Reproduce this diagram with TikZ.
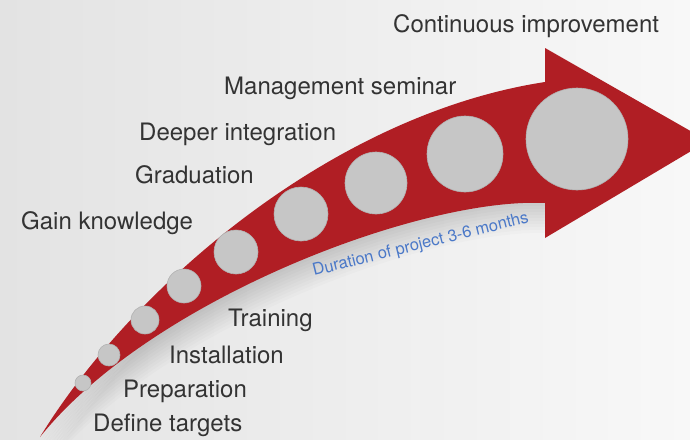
\documentclass[tikz,border=0pt]{standalone}
\usepackage{fontspec}
\setmainfont{TeX Gyre Heros}
\usetikzlibrary{positioning}
\definecolor{arrowred}{HTML}{B01E24}
\definecolor{dotgray}{HTML}{C6C6C6}
\definecolor{dotline}{HTML}{B2B2B2}
\definecolor{labeltext}{HTML}{333333}
\definecolor{durblue}{HTML}{4A78C8}
\definecolor{bgleft}{HTML}{E3E3E3}
\definecolor{bgright}{HTML}{F8F8F8}
\tikzset{
  step label/.style={anchor=base west, text=labeltext, inner sep=0pt, font=\fontsize{24}{28}\selectfont},
  dot/.style={fill=dotgray, draw=dotline, line width=0.6pt},
}
\begin{document}
\begin{tikzpicture}[x=1pt,y=-1pt]
\clip (0,0) rectangle (690,439);
\shade[left color=bgleft, right color=bgright] (0,0) rectangle (690,439);

% soft shadow under the shaft
\foreach \s in {3,6,...,30} {
  \fill[black, opacity=0.014, shift={(\s/4,\s)}] (40,437) .. controls (130,290) and (330,115) .. (545,82) -- (545,203) .. controls (420,197) and (150,300) .. (40,437) -- cycle;
}

% the arrow
\fill[arrowred] (40,437) .. controls (130,290) and (330,115) .. (545,82) -- (545,48) -- (708,141) -- (545,238) -- (545,203) .. controls (420,197) and (150,300) .. (40,437) -- cycle;

% dots, growing along the arrow
\draw[dot] (83,383) circle (8pt);
\draw[dot] (109,355) circle (11pt);
\draw[dot] (145,320) circle (14pt);
\draw[dot] (184,286) circle (17pt);
\draw[dot] (236,252) circle (22pt);
\draw[dot] (301,214) circle (27pt);
\draw[dot] (376,183) circle (31pt);
\draw[dot] (465,154) circle (38pt);
\draw[dot] (577,139) circle (51pt);

% labels above the arrow
\node[step label] (improve) at (393,32) {Continuous improvement};
\node[step label] (seminar) at (224,94) {Management seminar};
\node[step label] (deeper) at (139,140) {Deeper integration};
\node[step label] (graduation) at (135,183) {Graduation};
\node[step label] (knowledge) at (21,229) {Gain knowledge};

% labels below the arrow
\node[step label] (training) at (228,326) {Training};
\node[step label] (install) at (169,363) {Installation};
\node[step label] (prep) at (123,397) {Preparation};
\node[step label] (targets) at (93,431) {Define targets};

\node[anchor=base west, text=durblue, rotate=14, inner sep=0pt, font=\fontsize{16.5}{19}\selectfont] (duration) at (314,276) {Duration of project 3-6 months};
\end{tikzpicture}
\end{document}
